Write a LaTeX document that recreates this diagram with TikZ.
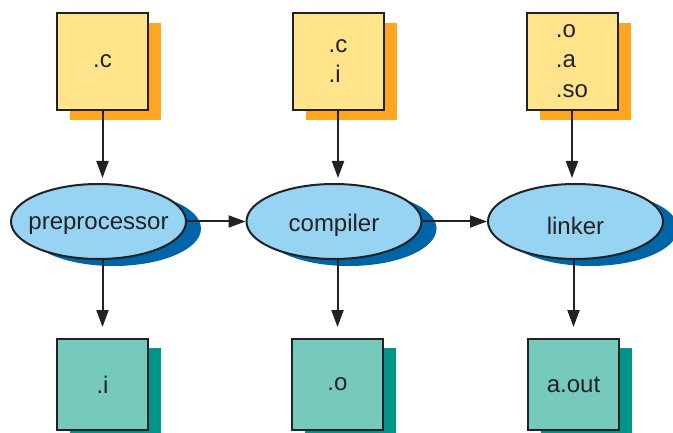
\documentclass[tikz,border=0pt]{standalone}
\usepackage{fontspec}
\setmainfont{Liberation Sans}
\usetikzlibrary{arrows.meta,shadows,shapes.geometric}
\definecolor{linegray}{HTML}{222222}
\definecolor{srcfill}{HTML}{FFE48C}
\definecolor{srcshade}{HTML}{FFA620}
\definecolor{outfill}{HTML}{76CABD}
\definecolor{outshade}{HTML}{00958A}
\definecolor{toolfill}{HTML}{97D3F2}
\definecolor{toolshade}{HTML}{0065A6}
\begin{document}
\begin{tikzpicture}[x=1pt,y=-1pt,
  every node/.style={text=linegray,font=\fontsize{24}{30}\selectfont},
  srcfile/.style={draw=linegray,line width=2pt,fill=srcfill,minimum width=91pt,minimum height=97pt,align=left,
    general shadow={fill=srcshade,shadow xshift=13pt,shadow yshift=-10pt}},
  outfile/.style={draw=linegray,line width=2pt,fill=outfill,minimum width=91pt,minimum height=91pt,
    general shadow={fill=outshade,shadow xshift=13pt,shadow yshift=-9pt}},
  tool/.style={ellipse,draw=linegray,line width=2pt,fill=toolfill,minimum width=175pt,minimum height=75pt,inner sep=0pt,
    general shadow={fill=toolshade,shadow xshift=15pt,shadow yshift=-7pt},label={[anchor=base,yshift=-4pt]center:#1}},
  flow/.style={draw=linegray,line width=2pt,-{Triangle[length=17pt,width=12pt]}}]
\useasboundingbox (0,0) rectangle (673,433);
% input files
\node[srcfile] (csrc) at (102.5,61.5) {.c};
\node[srcfile] (cisrc) at (338,61.5) {.c\\.i};
\node[srcfile] (objsrc) at (572,61.5) {.o\\.a\\.so};
% tools
\node[tool=preprocessor] (pre) at (98.5,221.5) {};
\node[tool=compiler] (comp) at (334,221.5) {};
\node[tool=linker] (link) at (575.5,221.5) {};
% output files
\node[outfile] (iout) at (102.5,384.5) {.i};
\node[outfile] (oout) at (337.5,384.5) {.o};
\node[outfile] (aout) at (573.5,384.5) {a.out};
% arrows
\draw[flow,shorten >=5pt] (csrc.south) -- (csrc.south |- pre.north);
\draw[flow,shorten >=5pt] (cisrc.south) -- (cisrc.south |- comp.north);
\draw[flow,shorten >=5pt] (objsrc.south) -- (objsrc.south |- link.north);
\draw[flow] (pre.east) -- (comp.west);
\draw[flow] (comp.east) -- (link.west);
\draw[flow,shorten >=11pt] (iout.north |- pre.south) -- (iout.north);
\draw[flow,shorten >=11pt] (oout.north |- comp.south) -- (oout.north);
\draw[flow,shorten >=11pt] (aout.north |- link.south) -- (aout.north);
\end{tikzpicture}
\end{document}
